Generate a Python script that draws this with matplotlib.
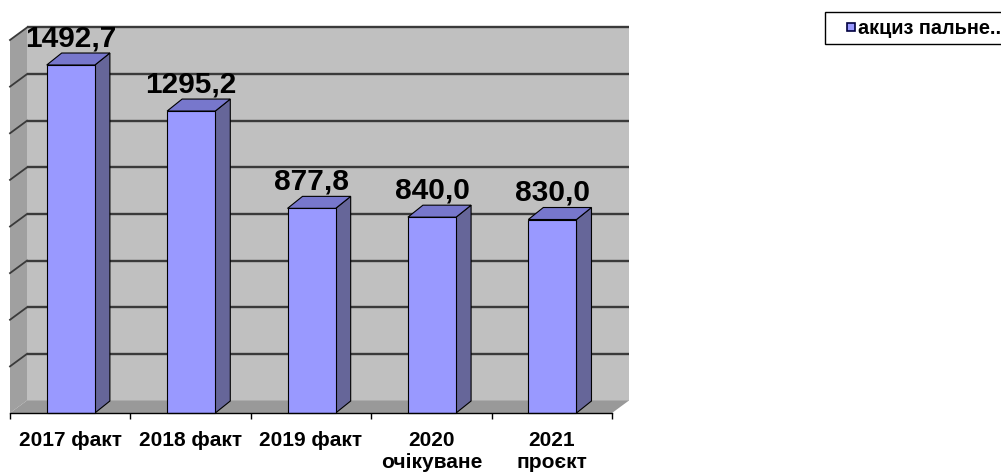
import numpy as np
import matplotlib.pyplot as plt
from matplotlib.patches import Polygon, Rectangle

# data
categories = ['2017 факт', '2018 факт', '2019 факт', '2020\nочікуване', '2021\nпроєкт']
values = [1492.7, 1295.2, 877.8, 840.0, 830.0]
grid_values = [200, 400, 600, 800, 1000, 1200, 1400, 1600]
legend_label = 'акциз пальне..'

plt.rcParams['font.family'] = ['Liberation Sans', 'DejaVu Sans']

W, H = 1001, 473
fig = plt.figure(figsize=(W / 100, H / 100), dpi=100)
ax = fig.add_axes([10 / W, 60 / H, 602 / W, 373 / H])
ax.set_xlim(-0.5, 4.5)
ax.set_ylim(0, 1600)
ax.patch.set_visible(False)

# pixel sizes of the 3d depth, turned into data units
px_x = 602 / 5
px_y = 373 / 1600
wdx, wdy = 17 / px_x, 12.5 / px_y
bdx, bdy = 15 / px_x, 12 / px_y

x_lo, x_hi = -0.5, 4.5
y_top = 1600

def poly(pts, color, z, ec='none', lw=0):
    p = Polygon(pts, closed=True, facecolor=color, edgecolor=ec, linewidth=lw,
                zorder=z, clip_on=False)
    ax.add_patch(p)

# walls and floor
poly([(x_lo + wdx, wdy), (x_hi + wdx, wdy), (x_hi + wdx, y_top + wdy), (x_lo + wdx, y_top + wdy)],
     '#c0c0c0', 0.5)
poly([(x_lo, 0), (x_lo + wdx, wdy), (x_lo + wdx, y_top + wdy), (x_lo, y_top)], '#a0a0a0', 0.6)
poly([(x_lo, 0), (x_hi, 0), (x_hi + wdx, wdy), (x_lo + wdx, wdy)], '#999999', 0.6)

# gridlines on back wall and left wall
for g in grid_values:
    ax.plot([x_lo + wdx, x_hi + wdx], [g + wdy, g + wdy], color='#3a3a3a', lw=1.7,
            zorder=1, clip_on=False, solid_capstyle='butt')
    ax.plot([x_lo, x_lo + wdx], [g, g + wdy], color='#3a3a3a', lw=1.3,
            zorder=1, clip_on=False)

# 3d bars
bar_w = 0.4
for i, v in enumerate(values):
    x0 = i - 0.195
    x1 = x0 + bar_w
    z = 3 + i
    poly([(x1, 0), (x1 + bdx, bdy), (x1 + bdx, v + bdy), (x1, v)], '#666699', z, 'black', 0.8)
    poly([(x0, v), (x1, v), (x1 + bdx, v + bdy), (x0 + bdx, v + bdy)], '#7777cc', z, 'black', 0.8)
    poly([(x0, 0), (x1, 0), (x1, v), (x0, v)], '#9999ff', z + 0.1, 'black', 0.8)
    label = f'{v:.1f}'.replace('.', ',')
    ax.text(i + 0.005, v + bdy + 7 / px_y, label, ha='center', va='baseline',
            fontsize=21.5, fontweight='bold', zorder=10)

# axis
ax.set_xticks(range(len(categories)))
ax.set_xticklabels(categories, fontsize=15, fontweight='bold')
for t in ax.get_xticklabels():
    t.set_linespacing(1.2)
ax.set_xticks(np.arange(-0.5, 5, 1), minor=True)
ax.tick_params(axis='x', which='major', length=0, pad=13)
ax.tick_params(axis='x', which='minor', length=4, width=1, direction='out', color='black')
ax.set_yticks([])
for s in ['left', 'top', 'right']:
    ax.spines[s].set_visible(False)
ax.spines['bottom'].set_color('black')
ax.spines['bottom'].set_linewidth(1)
ax.spines['bottom'].set_zorder(20)

# legend box, drawn by hand in figure pixels
def fig_px(x, y):
    return x / W, 1 - y / H

bx, by = fig_px(825, 44)
fig.add_artist(Rectangle((bx, by), 200 / W, 32 / H, transform=fig.transFigure,
                         facecolor='white', edgecolor='black', linewidth=1))
mx, my = fig_px(847, 31)
fig.add_artist(Rectangle((mx, my), 8 / W, 8 / H, transform=fig.transFigure,
                         facecolor='#9999ff', edgecolor='#000040', linewidth=1.2))
tx, ty = fig_px(858, 28)
fig.text(tx, ty, legend_label, ha='left', va='center', fontsize=14.3, fontweight='bold')

fig.savefig('out.png', dpi=100)
